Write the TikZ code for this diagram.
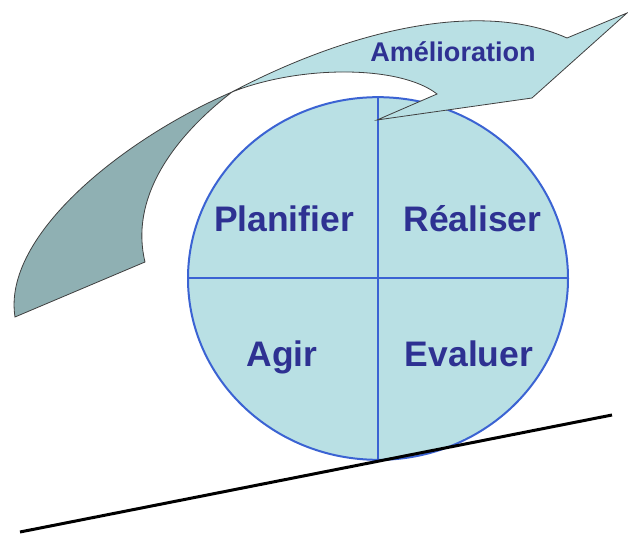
\documentclass[tikz,border=0pt]{standalone}
\usepackage{fontspec}
\setmainfont{Liberation Sans}
\usetikzlibrary{shapes.geometric}
\definecolor{bleuclair}{HTML}{B9E0E4}
\definecolor{grisbleu}{HTML}{8FB0B3}
\definecolor{bleutrait}{HTML}{3B63D3}
\definecolor{marine}{HTML}{2E3192}
\definecolor{contour}{HTML}{404040}

\begin{document}
\begin{tikzpicture}[x=0.75pt,y=-0.75pt,
    etape/.style={font=\bfseries\fontsize{26.6}{30}\selectfont, text=marine, anchor=base, inner sep=0pt},
    titre/.style={font=\bfseries\fontsize{20.3}{24}\selectfont, text=marine, anchor=base, inner sep=0pt},
    trait/.style={bleutrait, line width=1.5pt},
    fleche/.style={draw=contour, line width=0.6pt, line join=miter}]
    \useasboundingbox (0,0) rectangle (628,534);

    \node[ellipse, draw=bleutrait, line width=1.5pt, fill=bleuclair,
          minimum width=285pt, minimum height=272pt, inner sep=0pt] (roue) at (378,278.5) {};
    \draw[trait] (roue.north) -- (roue.south);
    \draw[trait] (roue.west) -- (roue.east);

    \coordinate (solG) at (20,532);
    \coordinate (solD) at (612,415);
    \draw[line width=2.25pt] (solG) -- (solD);

    \coordinate (croise) at (232,92);
    \draw[fleche, fill=grisbleu] (croise) .. controls (125,138) and (2,235) .. (15,317)
        -- (145,262) .. controls (130,200) and (170,140) .. (croise) -- cycle;
    \draw[fleche, fill=bleuclair] (croise) .. controls (330,40) and (470,-5) .. (567,38)
        -- (627,13) -- (532,98) -- (377,120) -- (437,94)
        .. controls (400,65) and (300,65) .. (croise) -- cycle;

    \node[titre] (amelioration) at (453,62) {Amélioration};
    \node[etape] (planifier) at (284,232) {Planifier};
    \node[etape] (realiser) at (472.5,232) {Réaliser};
    \node[etape] (agir) at (282,367) {Agir};
    \node[etape] (evaluer) at (469,367) {Evaluer};
\end{tikzpicture}
\end{document}
